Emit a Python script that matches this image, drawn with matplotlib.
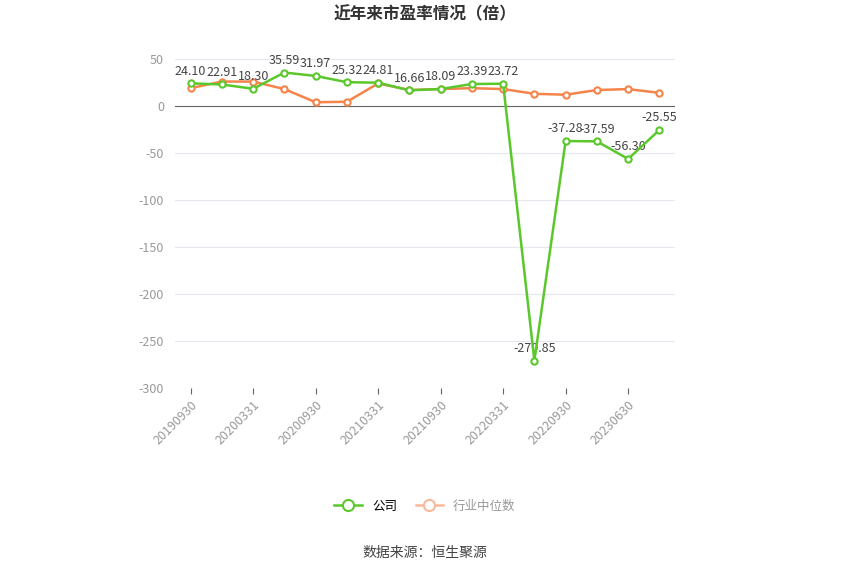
import matplotlib
matplotlib.use("Agg")
import matplotlib.pyplot as plt

plt.rcParams["font.family"] = "Noto Sans CJK SC"

dates = ["20190930","20191231","20200331","20200630","20200930","20201231","20210331","20210630",
         "20210930","20211231","20220331","20220630","20220930","20230331","20230630","20230930"]
company = [24.10,22.91,18.30,35.59,31.97,25.32,24.81,16.66,18.09,23.39,23.72,-270.85,-37.28,-37.59,-56.30,-25.55]
industry = [19,26,26,18,4,4.5,24,17,18,19,18,13,12,17,18,14]
yticks = [50,0,-50,-100,-150,-200,-250,-300]

fig = plt.figure(figsize=(8.5,5.75), dpi=100)
ax = fig.add_axes([175/850, 1-388/575, 500/850, (388-59)/575])
x = list(range(len(dates)))
green = "#5ac82d"; orange = "#f5844a"
ax.plot(x, industry, color=orange, lw=1.8, marker="o", ms=4.5, mfc="white", mec=orange, mew=1.5, zorder=3)
ax.plot(x, company, color=green, lw=1.8, marker="o", ms=4.5, mfc="white", mec=green, mew=1.5, zorder=4)
for i, v in enumerate(company):
    ax.text(i, v + (6 if v > -200 or True else 0), f"{v:.2f}", ha="center", va="bottom", fontsize=9, color="#444444")
ax.set_xlim(-0.5, len(dates)-0.5)
ax.set_ylim(-300, 50)
ax.set_yticks(yticks)
ax.set_yticklabels([str(t) for t in yticks], color="#999999", fontsize=9)
ax.set_xticks(x[::2])
ax.set_xticklabels(dates[::2], rotation=45, ha="right", rotation_mode="anchor", color="#999999", fontsize=9)
ax.grid(axis="y", color="#e6e6ee", lw=0.8)
for s in ["top","right","left","bottom"]:
    ax.spines[s].set_visible(False)
ax.axhline(0, color="#666666", lw=0.8)
ax.tick_params(axis="y", length=0, pad=8)
ax.tick_params(axis="x", length=4, color="#666666")
ax.set_axisbelow(True)

fig.text(0.5, 1-14/575, "近年来市盈率情况（倍）", ha="center", va="center", fontsize=12, fontweight="bold", color="#333333")
from matplotlib.lines import Line2D
h = [Line2D([], [], color=green, marker="o", mfc="white", mec=green, ms=8, mew=1.5, lw=1.8),
     Line2D([], [], color="#f9b89a", marker="o", mfc="white", mec="#f9b89a", ms=8, mew=1.5, lw=1.8)]
leg = fig.legend(h, ["公司", "行业中位数"], loc="center", bbox_to_anchor=(0.5, 1-506/575), ncol=2, frameon=False, fontsize=9, handlelength=2.2, columnspacing=1.5)
leg.get_texts()[1].set_color("#999999")
fig.text(0.5, 1-553/575, "数据来源：恒生聚源", ha="center", va="center", fontsize=10, color="#444444")
fig.savefig("out.png", dpi=100)
